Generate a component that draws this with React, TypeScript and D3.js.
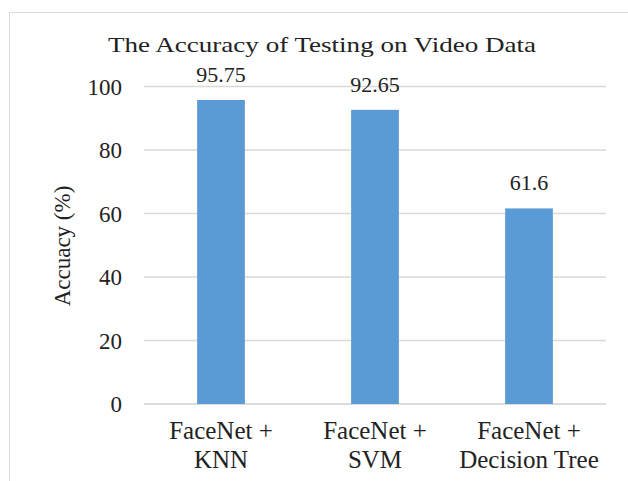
import React from 'react';
import * as d3 from 'd3';

const categories = [['FaceNet +', 'KNN'], ['FaceNet +', 'SVM'], ['FaceNet +', 'Decision Tree']];
const accuracy = [95.75, 92.65, 61.6];
const valueLabels = ['95.75', '92.65', '61.6'];
const yTicks = [0, 20, 40, 60, 80, 100];

const width = 628;
const height = 481;
const font = '"Liberation Serif", "Times New Roman", serif';
const textColor = '#222';

const App = () => {
  const keys = categories.map(c => c.join(' '));

  const x = d3.scaleBand()
    .domain(keys)
    .range([144, 606])
    .paddingInner(0.69)
    .paddingOuter(0.345);

  const y = d3.scaleLinear()
    .domain([0, 100])
    .range([404, 86.5]);

  return (
    <svg width={width} height={height} style={{ position: 'absolute', left: 0, top: 0, background: '#fff' }}>
      {/* chart border, runs off the right and bottom */}
      <rect x={9.5} y={12.5} width={700} height={600} fill="none" stroke="#d9d9d9" />

      {/* the original text is a bit stretched sideways, so fix its width */}
      <text
        x={322}
        y={52}
        textAnchor="middle"
        fontFamily={font}
        fontSize={22}
        fill={textColor}
        textLength={428}
        lengthAdjust="spacingAndGlyphs"
      >
        The Accuracy of Testing on Video Data
      </text>

      {yTicks.map(t => (
        <g key={t}>
          <line x1={144} x2={606} y1={y(t)} y2={y(t)} stroke={t === 0 ? '#d0d0d0' : '#d9d9d9'} strokeWidth={1.3} />
          <text x={122} y={y(t)} dy="0.35em" textAnchor="end" fontFamily={font} fontSize={23} fill={textColor}>
            {t}
          </text>
        </g>
      ))}

      <text
        transform={`translate(70,246) rotate(-90)`}
        textAnchor="middle"
        fontFamily={font}
        fontSize={23}
        fill={textColor}
      >
        Accuacy (%)
      </text>

      {keys.map((k, i) => (
        <g key={k}>
          <rect
            x={x(k)}
            y={y(accuracy[i])}
            width={x.bandwidth()}
            height={y(0) - y(accuracy[i])}
            fill="#5b9bd5"
          />
          <text
            x={x(k)! + x.bandwidth() / 2}
            y={y(accuracy[i]) - 18}
            textAnchor="middle"
            fontFamily={font}
            fontSize={22}
            fill={textColor}
          >
            {valueLabels[i]}
          </text>
          {categories[i].map((line, j) => (
            <text
              key={j}
              x={x(k)! + x.bandwidth() / 2}
              y={439 + j * 29}
              textAnchor="middle"
              fontFamily={font}
              fontSize={25}
              fill={textColor}
            >
              {line}
            </text>
          ))}
        </g>
      ))}
    </svg>
  );
};

export default App;
